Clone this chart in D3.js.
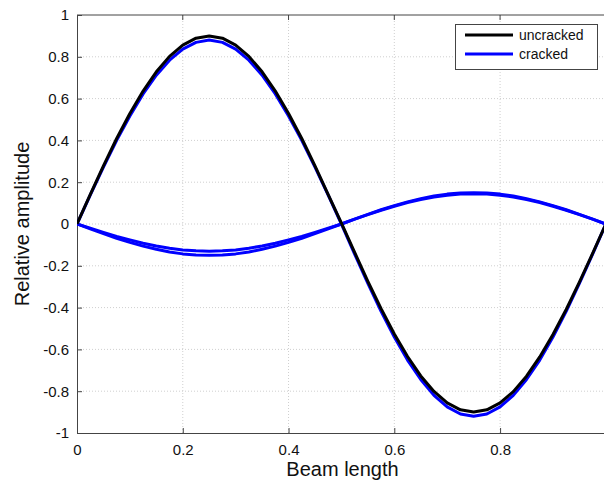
<!DOCTYPE html>
<html><head><meta charset="utf-8">
<script src="https://cdn.jsdelivr.net/npm/d3@7"></script>
<style>body{margin:0;background:#fff}svg{display:block}text{font-family:"Liberation Sans",Arial,sans-serif}</style>
</head><body><svg id="c" width="604" height="482"></svg>
<script>
const xs = d3.range(0, 41).map(i => +(i * 0.025).toFixed(3));
const uncracked = [0,0.141,0.278,0.409,0.529,0.636,0.728,0.802,0.856,0.889,0.900,0.889,0.856,0.802,0.728,0.636,0.529,0.409,0.278,0.141,0.004,
 -0.136,-0.274,-0.405,-0.526,-0.634,-0.727,-0.801,-0.856,-0.889,-0.900,-0.889,-0.856,-0.802,-0.728,-0.636,-0.529,-0.409,-0.278,-0.141,0];
const cracked = [0,0.138,0.272,0.400,0.517,0.622,0.712,0.784,0.837,0.869,0.880,0.869,0.837,0.784,0.712,0.622,0.517,0.400,0.272,0.138,0,
 -0.144,-0.284,-0.418,-0.541,-0.651,-0.744,-0.820,-0.875,-0.909,-0.920,-0.909,-0.875,-0.820,-0.744,-0.651,-0.541,-0.418,-0.284,-0.144,0];
const crackedA = [0,-0.020,-0.040,-0.059,-0.076,-0.092,-0.105,-0.116,-0.124,-0.128,-0.130,-0.128,-0.124,-0.116,-0.105,-0.092,-0.076,-0.059,-0.040,-0.020,0,
 0.023,0.046,0.068,0.088,0.106,0.121,0.134,0.143,0.148,0.150,0.148,0.143,0.134,0.121,0.106,0.088,0.068,0.046,0.023,0];
const crackedB = [0,-0.023,-0.046,-0.068,-0.088,-0.106,-0.121,-0.134,-0.143,-0.148,-0.150,-0.148,-0.143,-0.134,-0.121,-0.106,-0.088,-0.068,-0.046,-0.023,0,
 0.023,0.045,0.066,0.085,0.103,0.117,0.129,0.138,0.143,0.145,0.143,0.138,0.129,0.117,0.103,0.085,0.066,0.045,0.023,0];
const xTicks = [0, 0.2, 0.4, 0.6, 0.8];
const yTicks = [-1,-0.8,-0.6,-0.4,-0.2,0,0.2,0.4,0.6,0.8,1];
const legendLabels = ["uncracked", "cracked"];

const L = 77, T = 15, B = 433, R = 604;
const svg = d3.select("#c");
const x = d3.scaleLinear().domain([0, 0.9965]).range([L, R]);
const y = d3.scaleLinear().domain([-1, 1]).range([B, T]);
const fmt = d => String(d);

svg.append("defs").append("clipPath").attr("id","clip")
  .append("rect").attr("x",L).attr("y",T-5).attr("width",R-L).attr("height",B-T+10);

// grid
const g = svg.append("g");
g.selectAll(".gx").data(xTicks.slice(1)).join("line")
  .attr("x1",d=>x(d)).attr("x2",d=>x(d)).attr("y1",T).attr("y2",B)
  .attr("stroke","#cfcfcf").attr("stroke-width",1).attr("stroke-dasharray","1,2");
g.selectAll(".gy").data(yTicks.slice(1,-1)).join("line")
  .attr("x1",L).attr("x2",R).attr("y1",d=>y(d)).attr("y2",d=>y(d))
  .attr("stroke","#cfcfcf").attr("stroke-width",1).attr("stroke-dasharray","1,2");

// axes
const ax = svg.append("g").attr("transform",`translate(0,${B})`)
  .call(d3.axisBottom(x).tickValues(xTicks).tickSizeInner(-5).tickSizeOuter(0).tickPadding(8).tickFormat(fmt));
const ay = svg.append("g").attr("transform",`translate(${L},0)`)
  .call(d3.axisLeft(y).tickValues(yTicks).tickSizeInner(-5).tickSizeOuter(0).tickPadding(8).tickFormat(fmt));
[ax, ay].forEach(a => {
  a.select(".domain").attr("stroke","#444");
  a.selectAll(".tick line").attr("stroke","#444");
  a.selectAll("text").attr("font-size",15).attr("fill","#111").attr("font-family","Liberation Sans, Arial, sans-serif");
});
ax.selectAll("text").attr("dy","0.9em");
svg.append("line").attr("x1",L).attr("x2",R).attr("y1",T).attr("y2",T).attr("stroke","#444");
// top ticks
svg.selectAll(".tt").data(xTicks.slice(1)).join("line")
  .attr("x1",d=>x(d)).attr("x2",d=>x(d)).attr("y1",T).attr("y2",T+5).attr("stroke","#444");

// lines
const line = vals => d3.line().x((d,i)=>x(xs[i])).y(d=>y(d))(vals);
const plot = svg.append("g").attr("clip-path","url(#clip)");
[crackedA, crackedB].forEach(v => plot.append("path").attr("d", line(v))
  .attr("fill","none").attr("stroke","#0000ff").attr("stroke-width",3).attr("stroke-linejoin","round"));
plot.append("path").attr("d", line(cracked)).attr("fill","none").attr("stroke","#0000ff").attr("stroke-width",3).attr("stroke-linejoin","round");
plot.append("path").attr("d", line(uncracked)).attr("fill","none").attr("stroke","#000").attr("stroke-width",3).attr("stroke-linejoin","round");

// labels
svg.append("text").attr("x", (L+R)/2 + 2).attr("y", 476).attr("text-anchor","middle")
  .attr("font-size",20).attr("fill","#111").text("Beam length");
svg.append("text").attr("transform",`translate(29,${(T+B)/2}) rotate(-90)`).attr("text-anchor","middle")
  .attr("font-size",20).attr("fill","#111").text("Relative amplitude");

// legend
const lg = svg.append("g");
lg.append("rect").attr("x",455.5).attr("y",24.5).attr("width",142).attr("height",45)
  .attr("fill","#fff").attr("stroke","#444");
const colors = ["#000", "#0000ff"];
legendLabels.forEach((t,i) => {
  const yy = 35 + i*19;
  lg.append("line").attr("x1",465).attr("x2",513).attr("y1",yy).attr("y2",yy).attr("stroke",colors[i]).attr("stroke-width",3);
  lg.append("text").attr("x",519).attr("y",yy+5).attr("font-size",14).attr("fill","#111").text(t);
});
</script></body></html>
